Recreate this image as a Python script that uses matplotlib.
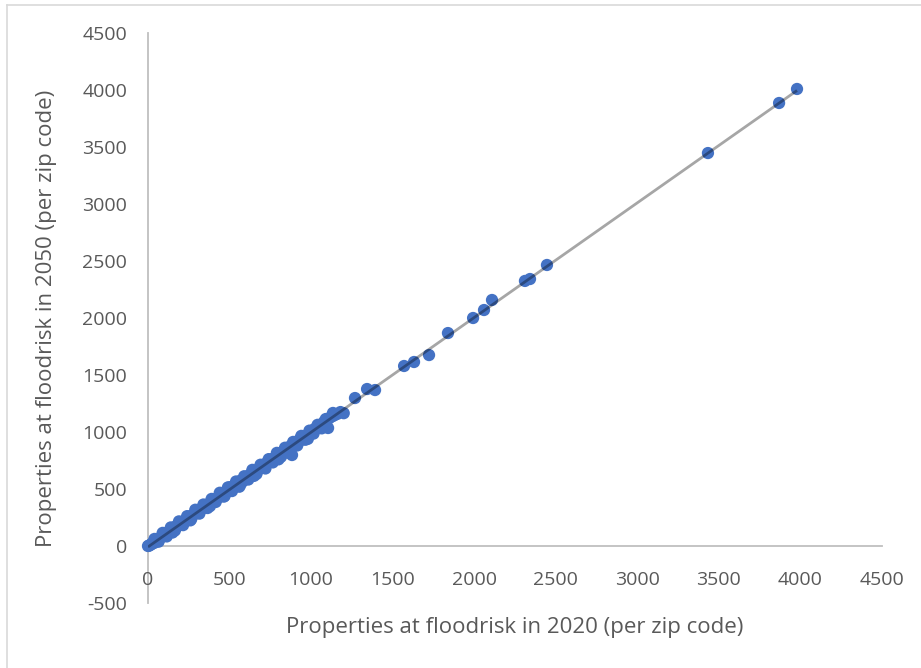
import numpy as np
import matplotlib
matplotlib.use("Agg")
import matplotlib.pyplot as plt
from matplotlib.lines import Line2D

# Properties at flood risk per zip code: 2020 (x) vs 2050 (y)
props_2020 = [
    0, 5, 12, 20, 28, 35, 42, 50, 58, 65, 72, 80, 88, 95, 103, 110, 118, 125, 133, 140,
    148, 150, 155, 163, 170, 178, 185, 193, 200, 210, 220, 230, 240, 250, 260, 260, 270, 280, 290, 300,
    310, 320, 330, 340, 350, 360, 370, 380, 380, 390, 400, 410, 420, 430, 440, 450, 460, 470, 470, 480,
    490, 500, 510, 520, 530, 540, 550, 560, 560, 570, 580, 590, 600, 610, 620, 630, 640, 650, 650, 660,
    670, 680, 690, 700, 710, 720, 720, 730, 740, 750, 760, 770, 780, 790, 800, 800, 810, 820, 830, 840,
    850, 850, 860, 870, 880, 883, 890, 900, 910, 920, 930, 940, 950, 960, 975, 980, 990, 1005, 1020, 1035,
    1050, 1065, 1080, 1095, 1104, 1110, 1125, 1134, 1140, 1160, 1180, 1200,
    40, 90, 140, 190, 240, 290, 340, 390, 440, 490, 540, 590, 640, 690, 740, 790, 840, 890, 940, 990,
    1040, 1090,
    65, 115, 165, 215, 265, 315, 365, 415, 465, 515, 565, 615, 665, 715, 765, 815, 865, 915, 965, 1015,
    1065,
    1269, 1343, 1392, 1570, 1631, 1723, 1839, 1993, 2060, 2109, 2311, 2342, 2446, 3433, 3869, 3979,
]
props_2050 = [
    0, 2, 8, 15, 22, 38, 30, 48, 52, 60, 70, 75, 85, 90, 98, 112, 110, 120, 128, 142,
    140, 118, 150, 158, 172, 170, 180, 190, 205, 200, 215, 228, 236, 255, 250, 225, 268, 276, 292, 295,
    305, 322, 325, 335, 355, 352, 366, 378, 350, 385, 405, 402, 416, 428, 432, 455, 452, 468, 440, 470,
    492, 515, 500, 522, 520, 530, 552, 548, 520, 575, 565, 590, 600, 598, 618, 632, 625, 655, 615, 650,
    668, 672, 692, 695, 712, 708, 680, 732, 735, 748, 758, 768, 775, 795, 790, 760, 815, 812, 828, 835,
    855, 820, 850, 872, 878, 798, 895, 895, 912, 915, 935, 930, 948, 962, 970, 940, 995, 1000, 1025, 1030,
    1060, 1062, 1090, 1100, 1035, 1120, 1135, 1167, 1145, 1158, 1175, 1165,
    62, 115, 163, 216, 262, 318, 364, 413, 467, 514, 566, 612, 668, 713, 762, 817, 862, 913, 966, 1012,
    1063, 1114,
    38, 84, 136, 183, 236, 284, 333, 386, 433, 482, 535, 583, 632, 686, 733, 782, 838, 882, 932, 986,
    1032,
    1298, 1377, 1368, 1579, 1614, 1675, 1868, 2000, 2070, 2158, 2325, 2342, 2465, 3447, 3886, 4009,
]

x_ticks = [0, 500, 1000, 1500, 2000, 2500, 3000, 3500, 4000, 4500]
y_ticks = [-500, 0, 500, 1000, 1500, 2000, 2500, 3000, 3500, 4000, 4500]

x_title = "Properties at floodrisk in 2020 (per zip code)"
y_title = "Properties at floodrisk in 2050 (per zip code)"

plt.rcParams["font.family"] = ["Open Sans", "DejaVu Sans"]
plt.rcParams["axes.unicode_minus"] = False
text_color = "#595959"
axis_color = "#BFBFBF"
marker_color = "#4472C4"

W, H = 921, 668
fig = plt.figure(figsize=(W / 100, H / 100), dpi=100)
ax = fig.add_axes([148 / W, 1 - 603 / H, (882 - 148) / W, (603 - 33) / H])

x = np.array(props_2020, dtype=float)
y = np.array(props_2050, dtype=float)

ax.scatter(x, y, s=78, color=marker_color, edgecolors="none", zorder=3, clip_on=False)

# Linear trendline over the range of the data
slope, intercept = np.polyfit(x, y, 1)
xl = np.array([x.min(), x.max()])
ax.plot(xl, slope * xl + intercept, color="black", alpha=0.35, lw=2.0,
        solid_capstyle="butt", zorder=4)

ax.set_xlim(0, 4500)
ax.set_ylim(-500, 4500)
ax.set_xticks(x_ticks)
ax.set_yticks(y_ticks)

for side in ("top", "right"):
    ax.spines[side].set_visible(False)
ax.spines["bottom"].set_position(("data", 0))
ax.spines["left"].set_position(("data", 0))
for side in ("bottom", "left"):
    ax.spines[side].set_color(axis_color)
    ax.spines[side].set_linewidth(1.3)
    ax.spines[side].set_zorder(1)

ax.tick_params(axis="x", length=0, pad=18, labelsize=14, labelcolor=text_color)
ax.tick_params(axis="y", length=0, pad=15, labelsize=14, labelcolor=text_color)
ax.patch.set_visible(False)

fig.text(515 / W, 1 - 627 / H, x_title, ha="center", va="center",
         fontsize=16, color=text_color)
fig.text(47 / W, 1 - 318 / H, y_title, ha="center", va="center",
         rotation=90, fontsize=16, color=text_color)

# Chart frame (top and left edges)
fig.add_artist(Line2D([7 / W, 7 / W], [0, 1 - 5 / H], transform=fig.transFigure,
                      color="#D9D9D9", lw=1.2))
fig.add_artist(Line2D([7 / W, 1], [1 - 5 / H, 1 - 5 / H], transform=fig.transFigure,
                      color="#D9D9D9", lw=1.2))

fig.savefig("out.png", dpi=100)
